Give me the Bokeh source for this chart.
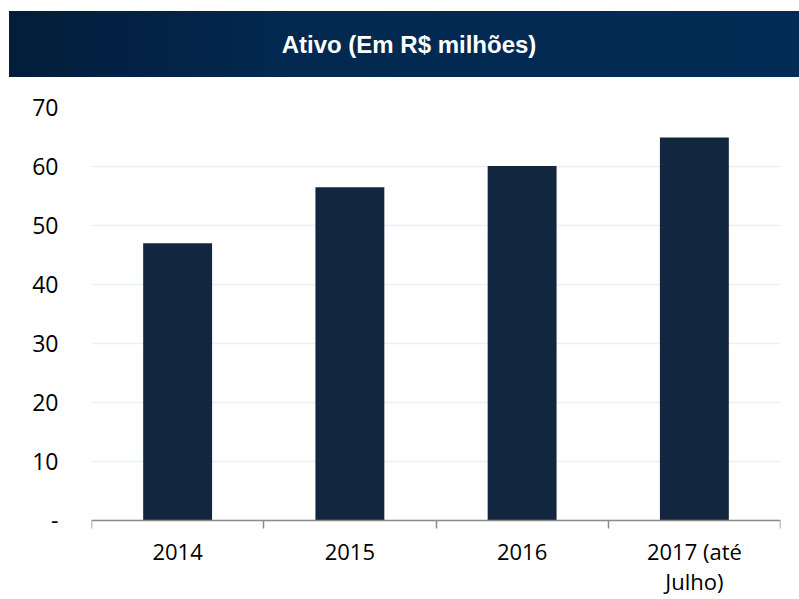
from bokeh.plotting import figure
from bokeh.models import Div, FixedTicker, ColumnDataSource, Range1d
from bokeh.layouts import column
from bokeh.embed import file_html
from bokeh.resources import INLINE

# ---- data ----
title_text = "Ativo (Em R$ milhões)"
categories = ["2014", "2015", "2016", "2017 (até\nJulho)"]
values = [47.0, 56.5, 60.1, 64.9]
y_ticks = [0, 10, 20, 30, 40, 50, 60, 70]
y_tick_labels = ["-", "10", "20", "30", "40", "50", "60", "70"]

BAR = "#13263F"
LABEL_FONT = "Open Sans"

# room below zero (in px) kept inside the frame for the category labels
PLOT_PX = 413
BELOW_PX = 79
y_min = -y_ticks[-1] * BELOW_PX / PLOT_PX

x_pos = [i + 0.5 for i in range(len(categories))]
source = ColumnDataSource(dict(x=x_pos, top=values))

header = Div(
    text=title_text,
    width=790, height=66,
    margin=(11, 0, 0, 9),
    styles={
        "background": "linear-gradient(to right, #031d3a 0%, #02284f 35%, #022c55 100%)",
        "color": "white",
        "font-family": "Liberation Sans, Arial, sans-serif",
        "font-weight": "bold",
        "font-size": "24px",
        "display": "flex",
        "align-items": "center",
        "justify-content": "center",
        "padding-left": "10px",
        "padding-top": "3px",
        "box-sizing": "border-box",
    },
)

p = figure(
    width=799, height=522,
    x_range=Range1d(0, len(categories)),
    y_range=Range1d(y_min, y_ticks[-1]),
    output_backend="svg", toolbar_location=None,
    min_border_left=91, min_border_right=19,
    min_border_top=30, min_border_bottom=0,
)
p.outline_line_color = None
p.background_fill_color = "white"
p.border_fill_color = "white"

p.vbar(x="x", top="top", width=0.4, bottom=0, source=source,
       fill_color=BAR, line_color=None)

# y axis
p.yaxis.ticker = FixedTicker(ticks=y_ticks)
p.yaxis.major_label_overrides = {t: l for t, l in zip(y_ticks, y_tick_labels)}
p.yaxis.axis_line_color = None
p.yaxis.major_tick_line_color = None
p.yaxis.minor_tick_line_color = None
p.yaxis.major_label_text_font = LABEL_FONT
p.yaxis.major_label_text_font_size = "23px"
p.yaxis.major_label_text_color = "#000000"
p.yaxis.major_label_standoff = 27

# x axis at y = 0, boundary ticks as minor ticks, labels at category centres
xa = p.xaxis[0]
xa.fixed_location = 0
xa.ticker = FixedTicker(ticks=x_pos, minor_ticks=list(range(len(categories) + 1)))
xa.major_label_overrides = {x: c for x, c in zip(x_pos, categories)}
xa.axis_line_color = "#8C8C8C"
xa.axis_line_width = 1.5
xa.major_tick_line_color = None
xa.major_tick_out = 6
xa.minor_tick_line_color = "#8C8C8C"
xa.minor_tick_line_width = 1.5
xa.minor_tick_out = 8
xa.minor_tick_in = 0
xa.major_label_text_font = LABEL_FONT
xa.major_label_text_font_size = "22px"
xa.major_label_text_color = "#000000"
xa.major_label_text_line_height = 1.0
xa.major_label_standoff = 7

p.xgrid.grid_line_color = None
p.ygrid.grid_line_color = "#E9EFF6"
p.ygrid.grid_line_width = 1.5

layout = column(header, p, spacing=0)

open("out.html", "w").write(file_html(layout, INLINE))
